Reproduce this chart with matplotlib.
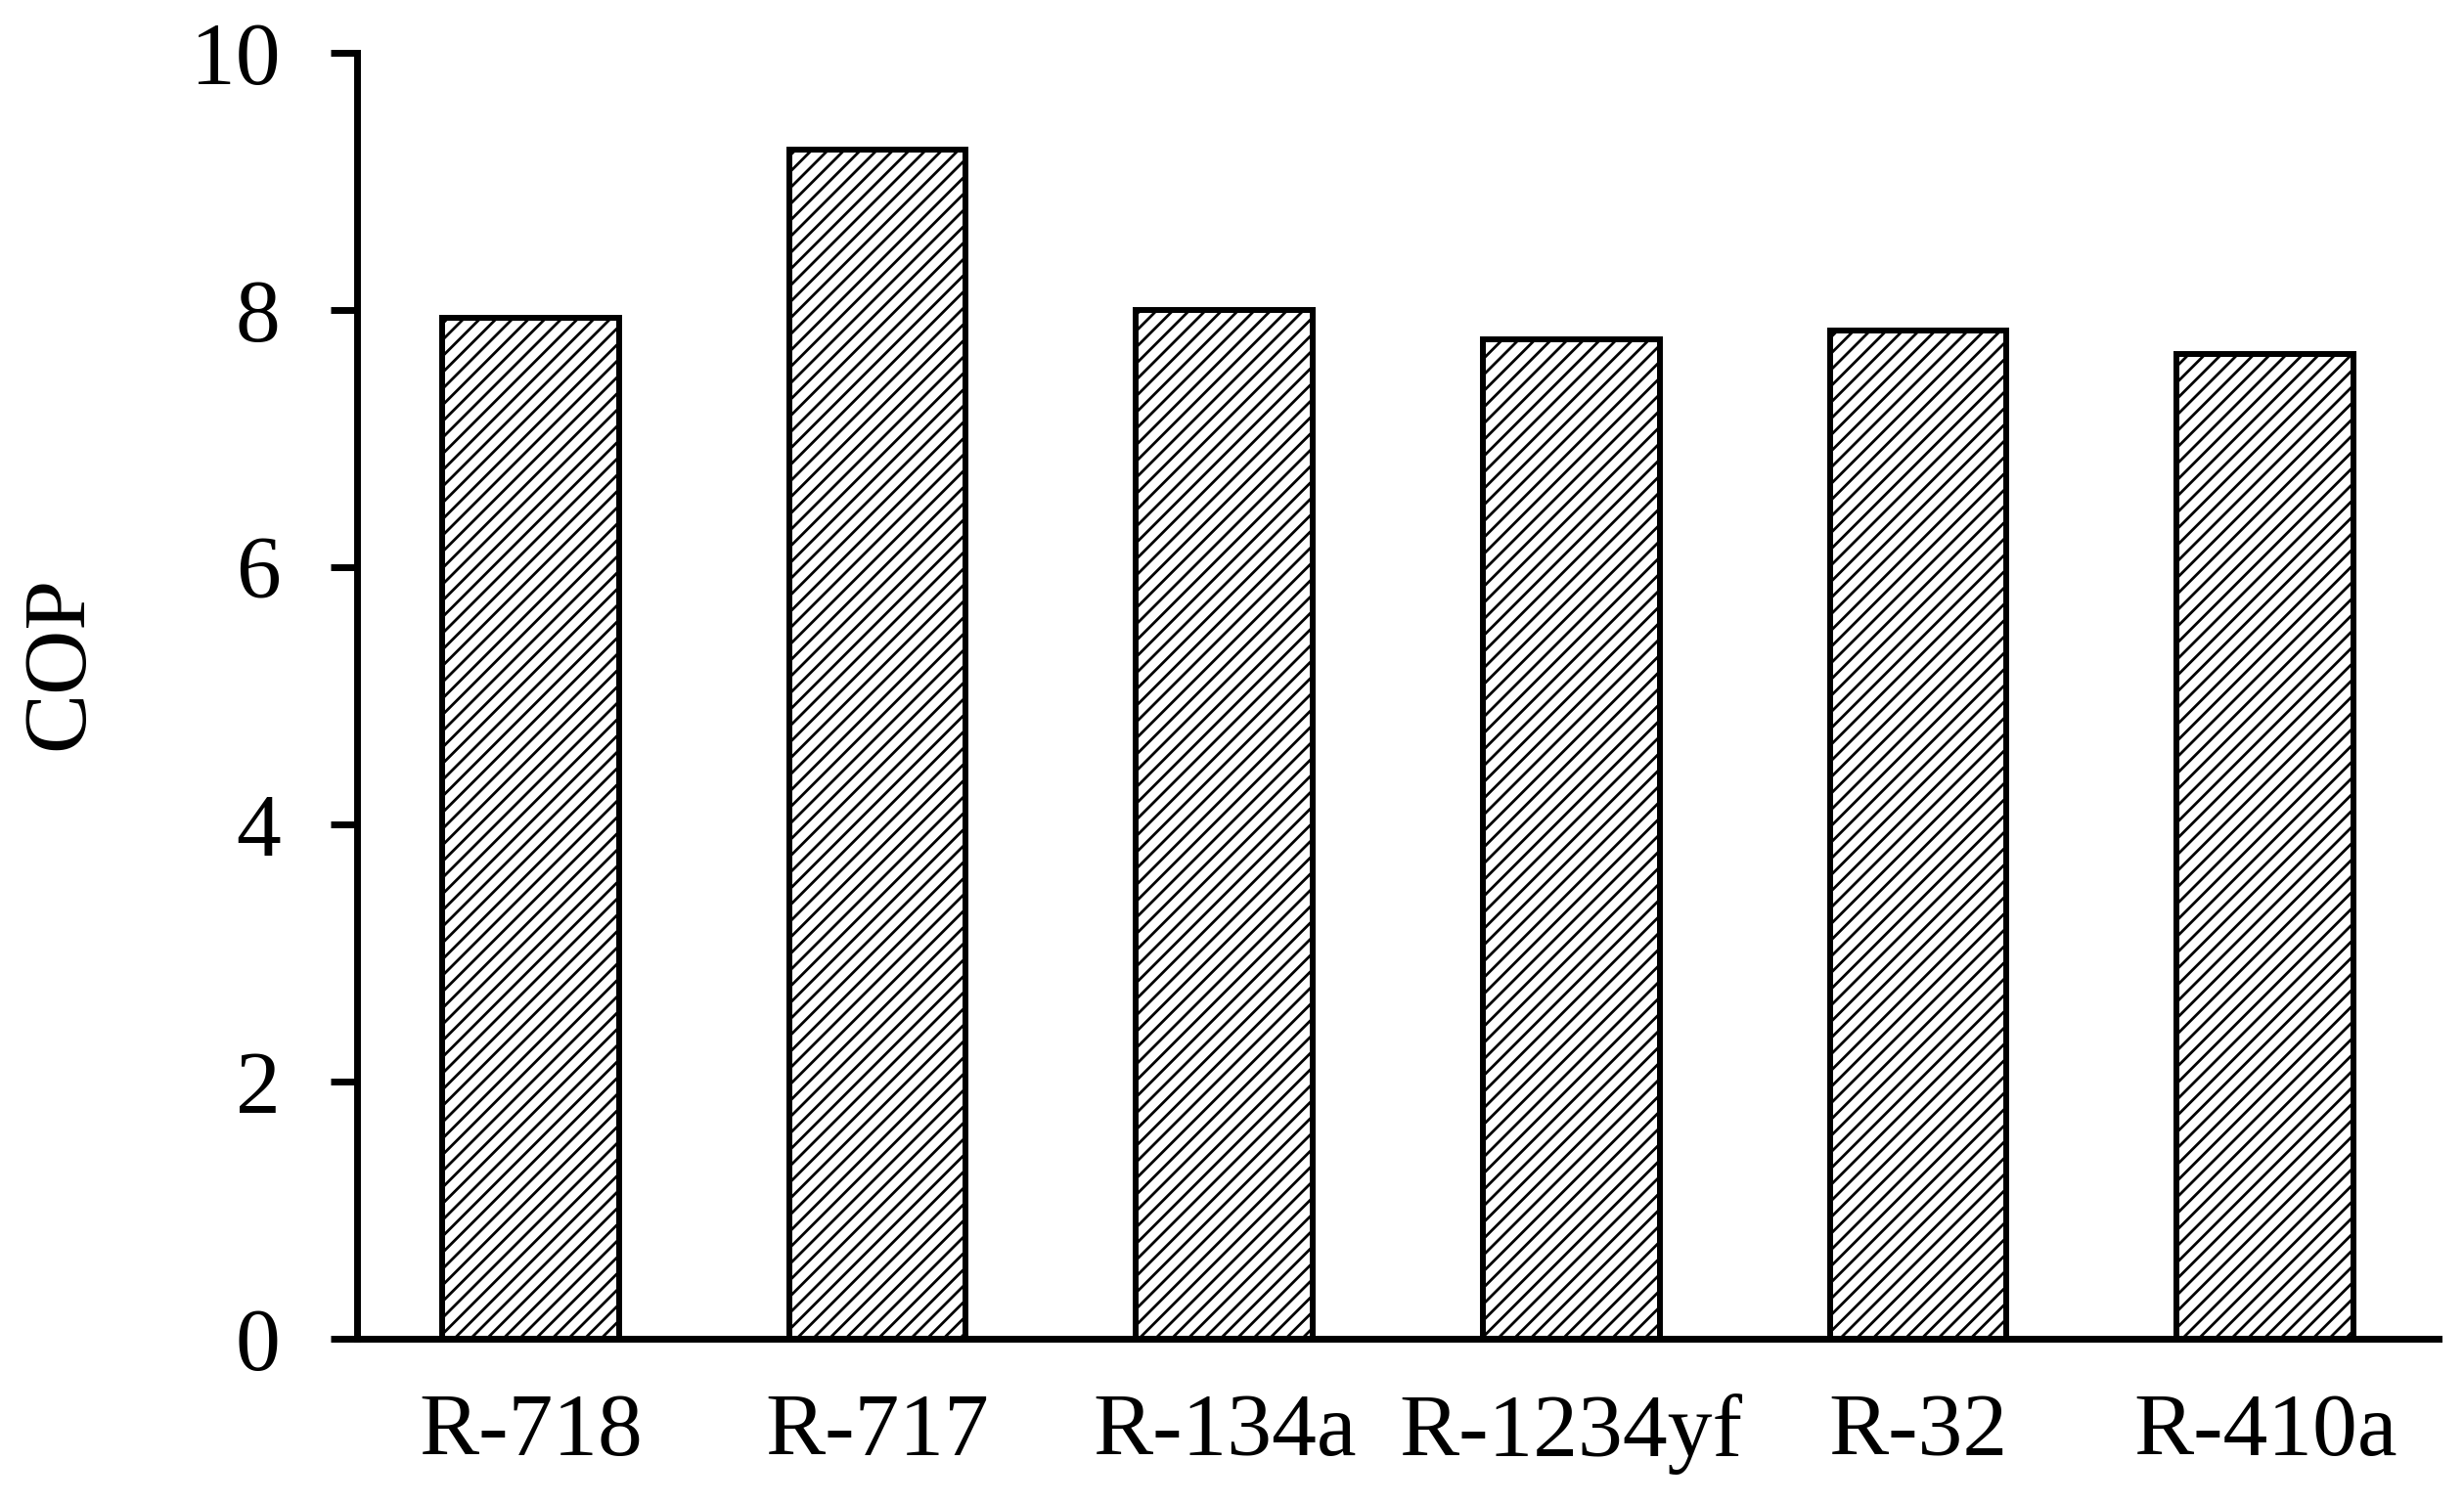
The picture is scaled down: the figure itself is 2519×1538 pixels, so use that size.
import matplotlib
matplotlib.use("Agg")
from matplotlib import pyplot as plt

# refrigerants and their COP values
refrigerants = ["R-718", "R-717", "R-134a", "R-1234yf", "R-32", "R-410a"]
cop = [7.94, 9.25, 8.00, 7.77, 7.84, 7.66]
yticks = [0, 2, 4, 6, 8, 10]

plt.rcParams['font.family'] = ['Liberation Serif', 'DejaVu Serif']
plt.rcParams['hatch.linewidth'] = 2.0
plt.rcParams['hatch.color'] = 'black'

fig = plt.figure(figsize=(25.19, 15.38), dpi=100)
ax = fig.add_axes([0.1449, 0.1099, 0.8448, 0.855])

x = list(range(len(refrigerants)))
ax.bar(x, cop, width=0.51, color='white', edgecolor='black',
       linewidth=4.3, hatch='//', zorder=2)

ax.set_xlim(-0.5, 5.5)
ax.set_ylim(0, 10)
ax.set_yticks(yticks)
ax.set_xticks(x)
ax.set_xticklabels(refrigerants)

for s in ['top', 'right']:
    ax.spines[s].set_visible(False)
for s in ['left', 'bottom']:
    ax.spines[s].set_linewidth(5)

ax.tick_params(axis='y', direction='out', length=19.5, width=5,
               labelsize=66, pad=37)
ax.tick_params(axis='x', length=0, labelsize=66, pad=40)

ax.set_ylabel("COP", fontsize=66)
ax.yaxis.set_label_coords(-0.123, 0.5255)

fig.savefig("out.png", dpi=100)
